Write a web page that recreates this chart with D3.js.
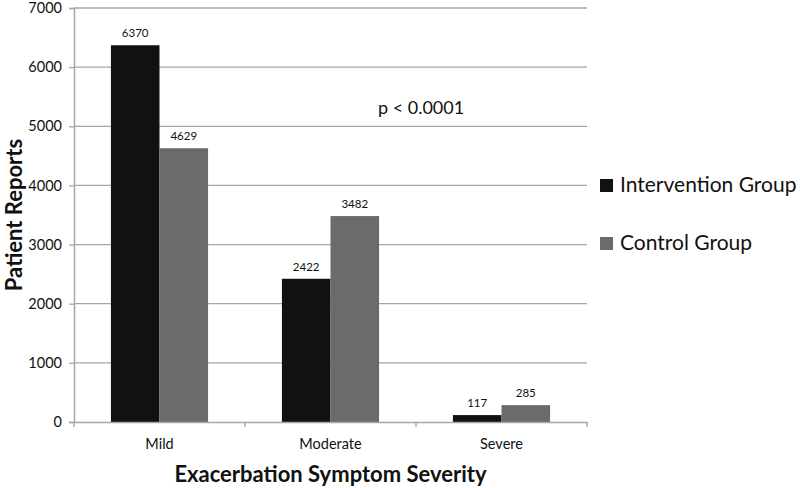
<!DOCTYPE html>
<head>
<meta charset="utf-8">
<style>
  body { margin:0; background:#fff; }
  text { font-family: Lato, "Open Sans", sans-serif; }
</style>
</head>
<script src="https://d3js.org/d3.v7.min.js"></script>
<div id="chart"></div>
<script>
// chart values
const categories = ["Mild", "Moderate", "Severe"];
const seriesNames = ["Intervention Group", "Control Group"];
const intervention = [6370, 2422, 117];
const control = [4629, 3482, 285];
const yTicks = [0, 1000, 2000, 3000, 4000, 5000, 6000, 7000];
const colors = ["#111111", "#6b6b6b"];

var W = 800, H = 488;
var margin = {top: 8, right: 213, bottom: 66, left: 74};
var width = W - margin.left - margin.right,
    height = H - margin.top - margin.bottom;

var svg = d3.select("#chart").append("svg")
    .attr("width", W).attr("height", H);
var g = svg.append("g")
    .attr("transform", "translate(" + margin.left + "," + margin.top + ")");

var x0 = d3.scaleBand().domain(categories).range([0, width]).paddingInner(0).paddingOuter(0);
var x1 = d3.scaleBand().domain(seriesNames).range([0, x0.bandwidth()]).paddingInner(0).paddingOuter(0.76);
var y = d3.scaleLinear().domain([0, 7000]).range([height, 0]);

// gridlines
g.selectAll(".grid").data(yTicks.slice(1)).enter().append("line")
  .attr("x1", 0).attr("x2", width)
  .attr("y1", d => y(d)).attr("y2", d => y(d))
  .attr("stroke", "#a6a6a6").attr("stroke-width", 1.3);

// y axis
var ya = g.append("g").call(d3.axisLeft(y).tickValues(yTicks).tickSize(5).tickPadding(7).tickFormat(d3.format("d")));
ya.select(".domain").attr("stroke", "#a6a6a6").attr("stroke-width", 1.5);
ya.selectAll(".tick line").attr("stroke", "#a6a6a6").attr("stroke-width", 1.3);
ya.selectAll("text").attr("font-size", 14.5).attr("fill", "#111").style("font-family", "Lato, sans-serif");

// bars
var data = categories.map((c, i) => ({cat: c, vals: [intervention[i], control[i]]}));
var grp = g.selectAll(".grp").data(data).enter().append("g")
  .attr("transform", d => "translate(" + x0(d.cat) + ",0)");
grp.selectAll("rect").data(d => d.vals.map((v, j) => ({name: seriesNames[j], v: v, j: j})))
  .enter().append("rect")
  .attr("x", d => x1(d.name)).attr("width", x1.bandwidth())
  .attr("y", d => y(d.v)).attr("height", d => height - y(d.v))
  .attr("fill", d => colors[d.j]);
grp.selectAll(".lbl").data(d => d.vals.map((v, j) => ({name: seriesNames[j], v: v, j: j})))
  .enter().append("text")
  .attr("x", d => x1(d.name) + x1.bandwidth() / 2)
  .attr("y", d => y(d.v) - 8)
  .attr("text-anchor", "middle").attr("font-size", 11.5).attr("fill", "#111")
  .text(d => d.v);

// x axis
var xa = g.append("g").attr("transform", "translate(0," + height + ")")
  .call(d3.axisBottom(x0).tickSize(0).tickPadding(17));
xa.select(".domain").attr("stroke", "#a6a6a6").attr("stroke-width", 1.5);
xa.selectAll("text").attr("font-size", 14.5).attr("fill", "#111").style("font-family", "Lato, sans-serif");
// category boundary ticks
g.selectAll(".bt").data(categories.map(c => x0(c)).concat([width])).enter().append("line")
  .attr("x1", d => d).attr("x2", d => d)
  .attr("y1", height).attr("y2", height + 5)
  .attr("stroke", "#a6a6a6").attr("stroke-width", 1.3);

// axis titles
svg.append("text").attr("x", margin.left + width / 2).attr("y", 482)
  .attr("text-anchor", "middle").attr("font-size", 22).attr("font-weight", "bold").attr("fill", "#111")
  .text("Exacerbation Symptom Severity");
svg.append("text").attr("transform", "translate(22," + (margin.top + height / 2) + ") rotate(-90)")
  .attr("text-anchor", "middle").attr("font-size", 22).attr("font-weight", "bold").attr("fill", "#111")
  .text("Patient Reports");

// p value
svg.append("text").attr("x", 378).attr("y", 114)
  .attr("font-size", 18).attr("fill", "#111").text("p < 0.0001");

// legend
var leg = svg.selectAll(".leg").data(seriesNames).enter().append("g")
  .attr("transform", (d, i) => "translate(600," + (185 + i * 58) + ")");
leg.append("rect").attr("x", 0).attr("y", -6).attr("width", 13).attr("height", 13)
  .attr("fill", (d, i) => colors[i]);
leg.append("text").attr("x", 20).attr("y", 7).attr("font-size", 21).attr("fill", "#111").text(d => d);
</script>
